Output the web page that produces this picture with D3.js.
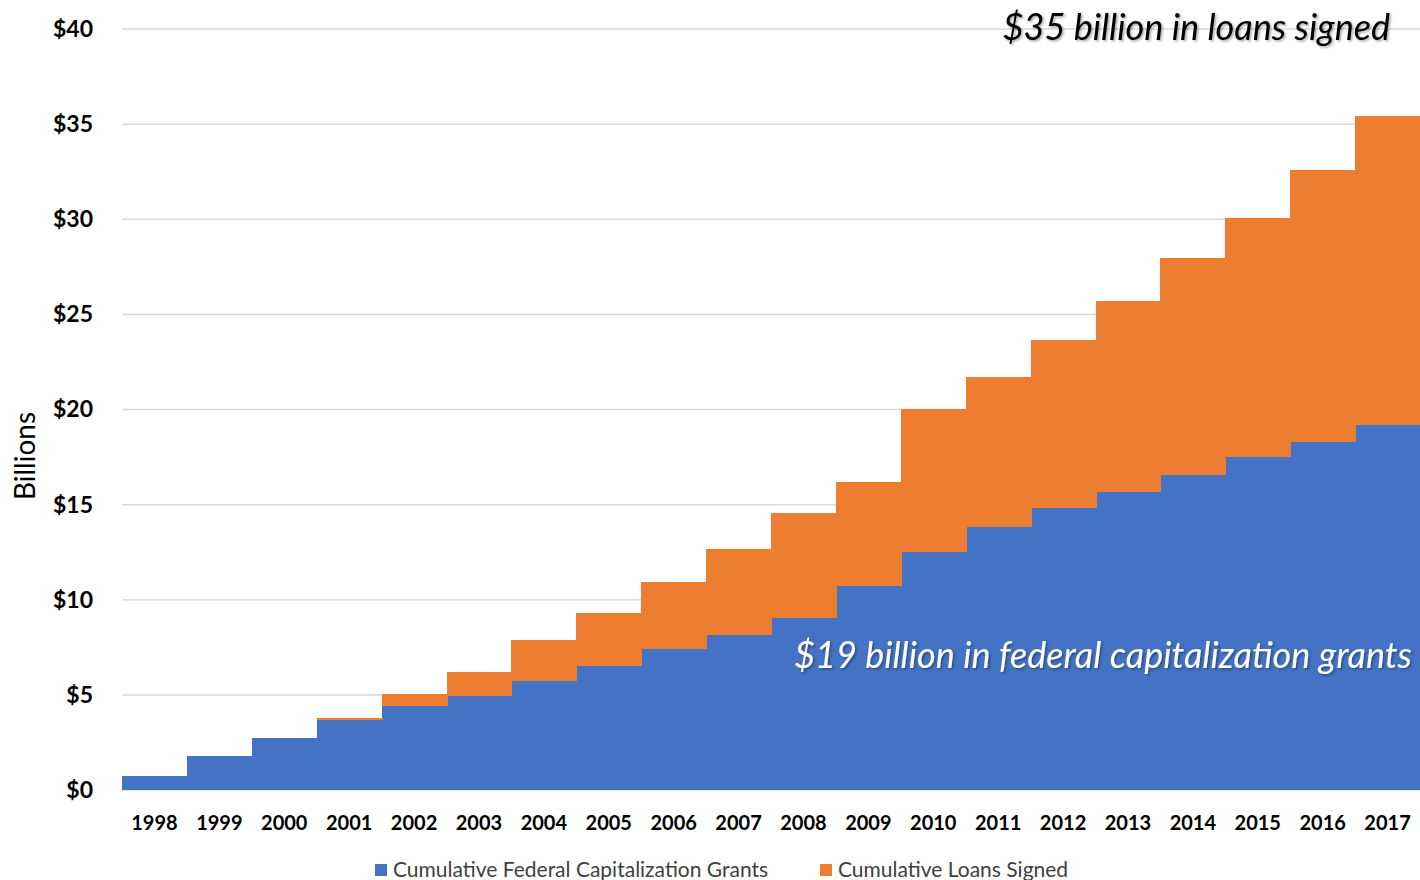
<!DOCTYPE html>
<html>
<head>
<meta charset="utf-8">
<script src="https://cdn.jsdelivr.net/npm/d3@7"></script>
<style>
  body { margin: 0; background: #fff; }
  text { font-family: Lato, "Open Sans", sans-serif; }
</style>
</head>
<body>
<div id="chart"></div>
<script>
// data (billions of dollars, cumulative)
var years = ['1998', '1999', '2000', '2001', '2002', '2003', '2004', '2005', '2006', '2007',
  '2008', '2009', '2010', '2011', '2012', '2013', '2014', '2015', '2016', '2017'];
var grants = [0.76, 1.79, 2.74, 3.70, 4.39, 4.96, 5.75, 6.54, 7.43, 8.16,
  9.06, 10.74, 12.53, 13.84, 14.84, 15.68, 16.57, 17.51, 18.30, 19.20];
var loans = [0, 0, 0, 0.07, 0.64, 1.26, 2.15, 2.76, 3.52, 4.52,
  5.51, 5.46, 7.51, 7.88, 8.82, 10.03, 11.40, 12.56, 14.29, 16.23];
var yTicks = [0, 5, 10, 15, 20, 25, 30, 35, 40];
var seriesNames = ['Cumulative Federal Capitalization Grants', 'Cumulative Loans Signed'];
var colors = ['#4472C4', '#ED7D31'];

var W = 1420, H = 880;
var margin = { top: 29, right: 0, bottom: 90, left: 122 };
var width = W - margin.left - margin.right;
var height = H - margin.top - margin.bottom;

var svg = d3.select('#chart').append('svg')
  .attr('width', W)
  .attr('height', H);

var defs = svg.append('defs');
defs.append('filter').attr('id', 'shadow')
  .attr('x', '-5%').attr('y', '-20%').attr('width', '110%').attr('height', '140%')
  .append('feDropShadow')
  .attr('dx', 1.5).attr('dy', 1.5).attr('stdDeviation', 1.2)
  .attr('flood-color', '#000').attr('flood-opacity', 0.35);

var g = svg.append('g')
  .attr('transform', 'translate(' + margin.left + ',' + margin.top + ')');

var x = d3.scaleBand().domain(years).range([0, width]).padding(0);
var y = d3.scaleLinear().domain([0, 40]).range([height, 0]);

// table for the stack
var table = years.map(function (yr, i) {
  return { year: yr, grants: grants[i], loans: loans[i] };
});
var stack = d3.stack().keys(['grants', 'loans'])(table);

// gridlines
g.append('g')
  .selectAll('line')
  .data(yTicks)
  .enter().append('line')
  .attr('x1', 0)
  .attr('x2', width)
  .attr('y1', function (d) { return y(d); })
  .attr('y2', function (d) { return y(d); })
  .style('stroke', '#d9d9d9')
  .style('stroke-width', 1.5);

// stacked bars (no gap between them)
g.selectAll('.layer')
  .data(stack)
  .enter().append('g')
  .attr('class', 'layer')
  .style('fill', function (d, i) { return colors[i]; })
  .selectAll('rect')
  .data(function (d) { return d; })
  .enter().append('rect')
  .attr('x', function (d) { return x(d.data.year); })
  .attr('width', x.bandwidth() + 1)
  .attr('y', function (d) { return y(d[1]); })
  .attr('height', function (d) { return y(d[0]) - y(d[1]); })
  .attr('shape-rendering', 'crispEdges');

// y axis labels
var yAxis = g.append('g')
  .call(d3.axisLeft(y).tickValues(yTicks).tickSize(0).tickPadding(29)
    .tickFormat(function (d) { return '$' + d; }));
yAxis.select('.domain').remove();
yAxis.selectAll('text')
  .style('font-family', 'Lato, sans-serif')
  .style('font-size', '23px')
  .style('font-weight', 'bold')
  .style('fill', '#000');

// x axis labels
var xAxis = g.append('g')
  .attr('transform', 'translate(0,' + height + ')')
  .call(d3.axisBottom(x).tickSize(0).tickPadding(26));
xAxis.select('.domain').remove();
xAxis.selectAll('text')
  .style('font-family', 'Lato, sans-serif')
  .style('font-size', '20px')
  .style('font-weight', 'bold')
  .style('fill', '#000');

// y axis title
svg.append('text')
  .attr('transform', 'translate(35,456) rotate(-90)')
  .style('text-anchor', 'middle')
  .style('font-size', '28px')
  .style('fill', '#000')
  .text('Billions');

// annotations
svg.append('text')
  .attr('x', 1390)
  .attr('y', 40)
  .style('text-anchor', 'end')
  .style('font-size', '36px')
  .style('font-style', 'italic')
  .style('fill', '#000')
  .attr('filter', 'url(#shadow)')
  .text('$35 billion in loans signed');

svg.append('text')
  .attr('x', 1412)
  .attr('y', 668)
  .style('text-anchor', 'end')
  .style('font-size', '36px')
  .style('font-style', 'italic')
  .style('fill', '#fff')
  .attr('filter', 'url(#shadow)')
  .text('$19 billion in federal capitalization grants');

// legend
var legendX = [375, 820];
var legend = svg.selectAll('.legend')
  .data(seriesNames)
  .enter().append('g')
  .attr('class', 'legend')
  .attr('transform', function (d, i) { return 'translate(' + legendX[i] + ',864)'; });

legend.append('rect')
  .attr('width', 12)
  .attr('height', 12)
  .style('fill', function (d, i) { return colors[i]; });

legend.append('text')
  .attr('x', 18)
  .attr('y', 13)
  .style('font-size', '21px')
  .style('fill', '#404040')
  .text(function (d) { return d; });
</script>
</body>
</html>
